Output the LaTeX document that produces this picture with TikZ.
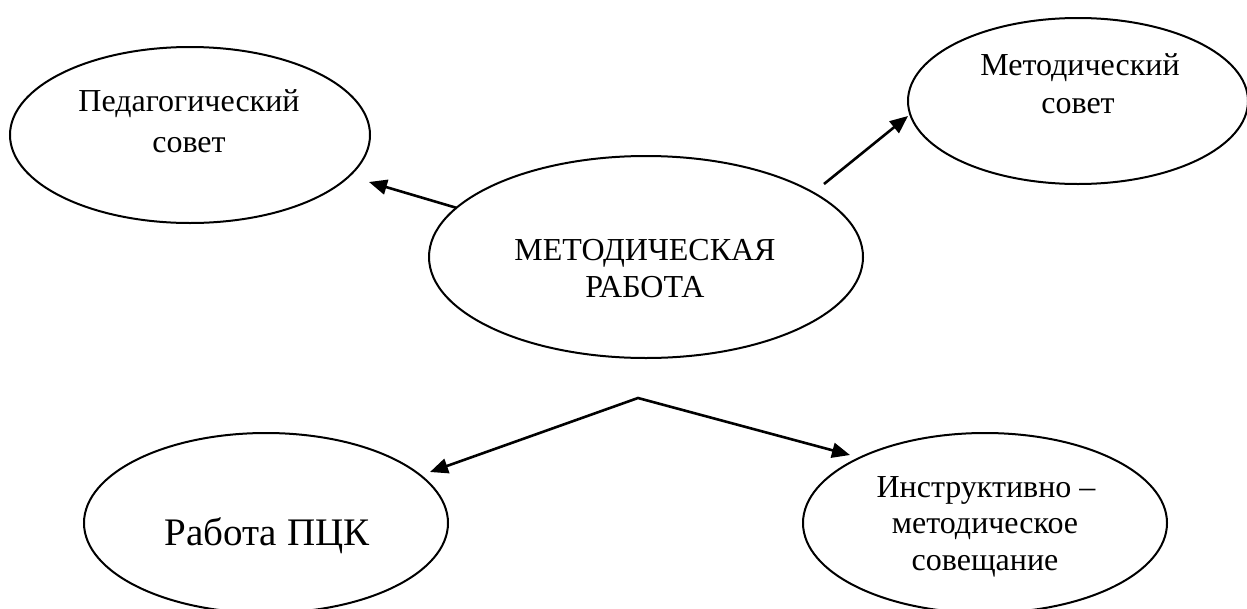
\documentclass[tikz,border=0pt]{standalone}
\usepackage{fontspec}
\setmainfont{Liberation Serif}
\usetikzlibrary{shapes.geometric,arrows.meta}
\tikzset{
  oval/.style={draw, ellipse, line width=2pt, inner sep=0pt},
  txt/.style={anchor=base, inner sep=0pt, font=\fontsize{32}{38}\selectfont},
  bigtxt/.style={anchor=base, inner sep=0pt, font=\fontsize{39}{45}\selectfont},
  arr/.style={line width=2.6pt, -{Triangle[length=18pt,width=15pt]}},
  darr/.style={line width=2.6pt, {Triangle[length=18pt,width=15pt]}-{Triangle[length=18pt,width=15pt]}}
}
\begin{document}
\begin{tikzpicture}[x=1pt,y=-1pt]
\useasboundingbox (0,0) rectangle (1247,608);
% ellipses
\node[oval, minimum width=360pt, minimum height=176pt] (ped) at (190,135) {};
\node[oval, minimum width=340pt, minimum height=166pt] (mets) at (1078,101) {};
\node[oval, minimum width=434pt, minimum height=202pt] (mr) at (646,257) {};
\node[oval, minimum width=364pt, minimum height=180pt] (pck) at (266,523) {};
\node[oval, minimum width=364pt, minimum height=180pt] (ims) at (985,523) {};
% texts
\node[txt] (ped1) at (189,111) {Педагогический};
\node[txt] (ped2) at (189,152) {совет};
\node[txt] (mets1) at (1080,75) {Методический};
\node[txt] (mets2) at (1078,113) {совет};
\node[txt] (mr1) at (645,260) {МЕТОДИЧЕСКАЯ};
\node[txt] (mr2) at (645,297) {РАБОТА};
\node[bigtxt] (pck1) at (267,545) {Работа ПЦК};
\node[txt] (ims1) at (986,497) {Инструктивно –};
\node[txt] (ims2) at (985,533) {методическое};
\node[txt] (ims3) at (985,570) {совещание};
% connector end points
\coordinate (s1) at (457,208);
\coordinate (t1) at (369,182);
\coordinate (s2) at (824,184);
\coordinate (t2) at (908,116);
\coordinate (apex) at (638,398);
\coordinate (t3) at (430,472);
\coordinate (t4) at (850,455);
% connectors
\draw[arr] (s1) -- (t1);
\draw[arr] (s2) -- (t2);
\draw[darr, line join=miter] (t3) -- (apex) -- (t4);
\end{tikzpicture}
\end{document}
